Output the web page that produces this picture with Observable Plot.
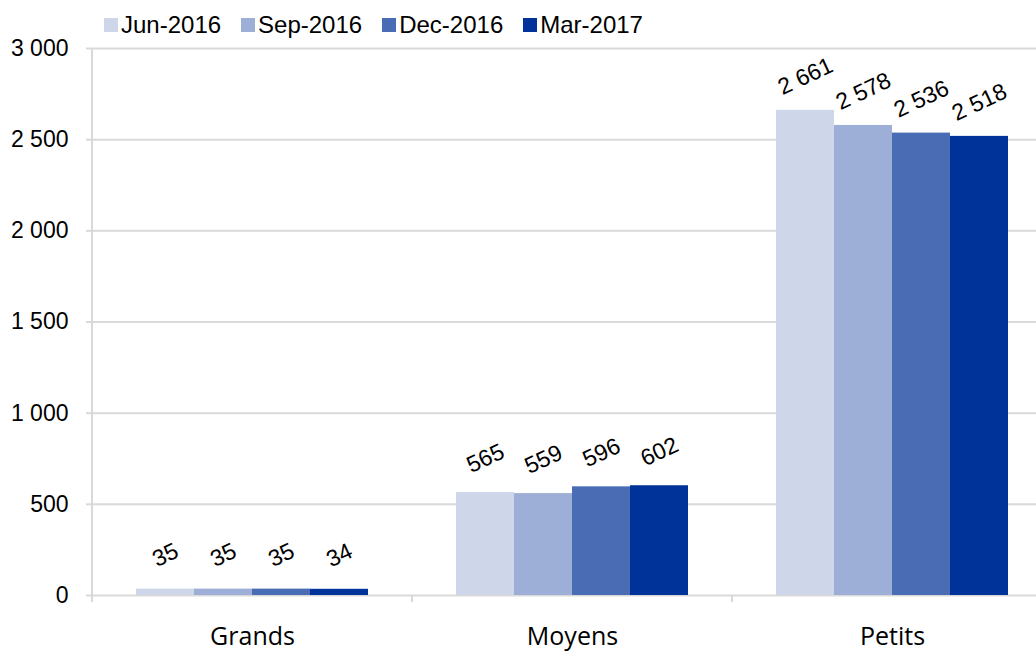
<!DOCTYPE html>
<html>
<head>
<meta charset="utf-8">
<script src="https://cdn.jsdelivr.net/npm/d3@7"></script>
<script src="https://cdn.jsdelivr.net/npm/@observablehq/plot@0.6"></script>
<style>
  html, body { margin: 0; padding: 0; background: #fff; overflow: hidden; width: 1036px; height: 652px; }
  #legend { height: 36px; box-sizing: border-box; padding-top: 14px; padding-left: 104px; display: flex; align-items: center;
            font-family: "Liberation Sans", Arial, sans-serif; font-size: 24px; line-height: 1; color: #000; }
  #legend .item { display: flex; align-items: center; margin-right: 20px; }
  #legend .sw { width: 14px; height: 14px; margin-right: 3px; }
  #chart svg { max-width: none !important; display: block; }
</style>
</head>
<body>
<div id="legend"></div>
<div id="chart"></div>
<script>
const categories = ["Grands", "Moyens", "Petits"];
const series = ["Jun-2016", "Sep-2016", "Dec-2016", "Mar-2017"];
const colors = ["#cdd7e9", "#9dafd7", "#4a6cb5", "#003399"];
const grands = [35, 35, 35, 34];
const moyens = [565, 559, 596, 602];
const petits = [2661, 2578, 2536, 2518];
const yTicks = [0, 500, 1000, 1500, 2000, 2500, 3000];

const valuesByCat = {Grands: grands, Moyens: moyens, Petits: petits};
const data = [];
for (const c of categories) series.forEach((s, i) => data.push({cat: c, series: s, value: valuesByCat[c][i]}));

const fmt = d3.formatLocale({decimal: ",", thousands: " ", grouping: [3], currency: ["", " €"]}).format(",");

// legend
const legend = document.getElementById("legend");
series.forEach((s, i) => {
  const it = document.createElement("div");
  it.className = "item";
  it.innerHTML = `<span class="sw" style="background:${colors[i]}"></span><span>${s}</span>`;
  legend.appendChild(it);
});

const plot = Plot.plot({
  width: 1052,
  height: 616,
  marginLeft: 92,
  marginRight: 0,
  marginTop: 12,
  marginBottom: 57,
  style: {fontFamily: "'Liberation Sans', Arial, sans-serif", fontSize: "23px", background: "white", overflow: "visible", color: "#000", maxWidth: "none"},
  fx: {domain: categories, padding: 0, label: null, axis: null},
  x: {domain: series, paddingInner: 0, paddingOuter: 0.75, axis: null},
  y: {domain: [0, 3000], label: null, axis: null},
  color: {domain: series, range: colors},
  marks: [
    Plot.gridY(yTicks, {stroke: "#d9d9d9", strokeOpacity: 1, strokeWidth: 2}),
    Plot.barY(data, {fx: "cat", x: "series", y: "value", fill: "series"}),
    Plot.text(data, {fx: "cat", x: "series", y: "value", text: d => fmt(d.value), rotate: -25, dy: -34, fontSize: 23, fill: "#000"}),
    Plot.axisY(yTicks, {tickFormat: fmt, tickSize: 6, tickPadding: 18, stroke: "#d9d9d9", strokeWidth: 2, fontSize: 23, label: null}),
    Plot.axisFx({anchor: "bottom", tickSize: 0, tickPadding: 32, fontFamily: "'Open Sans', sans-serif", fontSize: 25, label: null})
  ]
});

// axis lines derived from the plot's scales
const fxs = plot.scale("fx");
const ys = plot.scale("y");
const bounds = categories.map(c => fxs.apply(c));
bounds.push(bounds[bounds.length - 1] + fxs.step);
const y0 = ys.apply(0), yTop = ys.apply(3000);
const g = d3.select(plot).append("g").attr("stroke", "#d9d9d9").attr("stroke-width", 2);
g.append("line").attr("x1", bounds[0]).attr("x2", bounds[0]).attr("y1", yTop).attr("y2", y0 + 7);
bounds.slice(1).forEach(b => g.append("line").attr("x1", b).attr("x2", b).attr("y1", y0).attr("y2", y0 + 7));

document.getElementById("chart").appendChild(plot);
</script>
</body>
</html>
